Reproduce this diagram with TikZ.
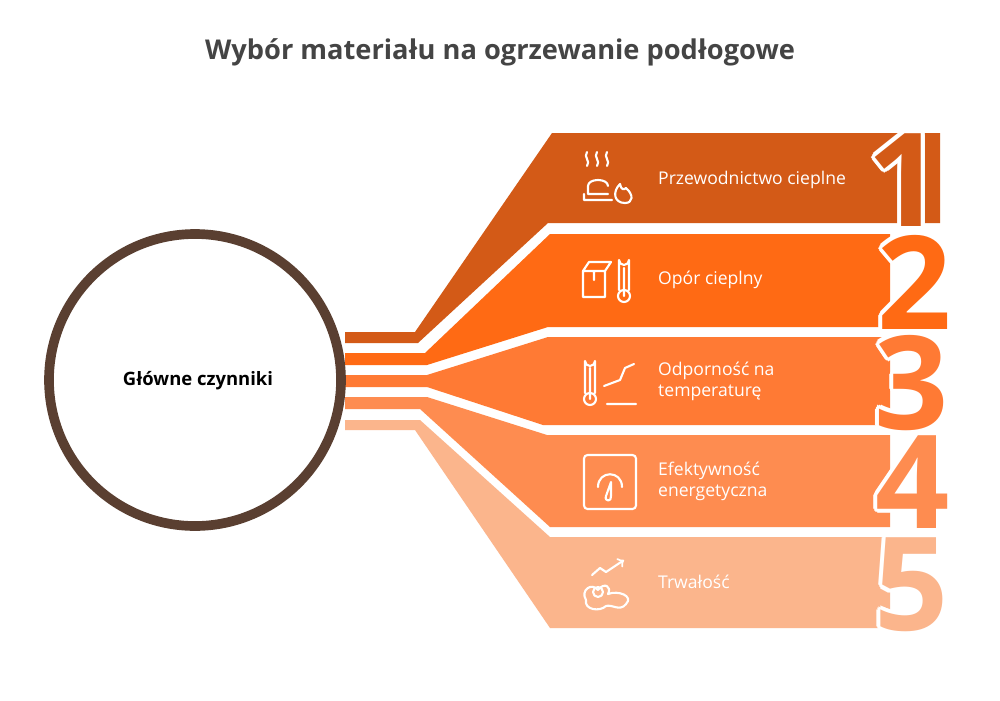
\documentclass[tikz,border=0pt]{standalone}
\usepackage{fontspec}
\setmainfont{Open Sans}
\usepackage{tikz}
\usetikzlibrary{calc}
\definecolor{bandA}{HTML}{D35A17}
\definecolor{bandB}{HTML}{FF6A14}
\definecolor{bandC}{HTML}{FF7A34}
\definecolor{bandD}{HTML}{FE8C50}
\definecolor{bandE}{HTML}{FBB58C}
\definecolor{ring}{HTML}{5A3F31}
\definecolor{titlegray}{HTML}{444444}
\begin{document}
\begin{tikzpicture}[x=0.02cm,y=-0.02cm]
\tikzstyle{label} = [anchor=west, text=white, font=\fontsize{10}{12}\selectfont, align=left]
\tikzstyle{icon} = [white, line width=1.2pt, line cap=round, line join=round]
\tikzstyle{digit} = [font=\fontsize{74}{74}\selectfont\bfseries, inner sep=0pt]
\newcommand{\bignum}[4]{% position, digit, colour, name
  \foreach \a in {0,30,...,330} {\node[digit, white] at ($(#1)+(\a:4)$) {#2};}
  \node[digit, text=#3] (#4) at (#1) {#2};}
\useasboundingbox (0,0) rectangle (1000,700);
\fill[white] (0,0) rectangle (1000,700);
% title
\node[text=titlegray, font=\fontsize{15.5}{17}\selectfont\bfseries] (title) at (500,52) {Wybór materiału na ogrzewanie podłogowe};
% bands
\fill[bandA] (345,332) -- (415,332) -- (552,133) -- (940,133) -- (940,223) -- (548,223) -- (418,343) -- (345,343) -- cycle;
\fill[bandB] (345,353) -- (425,353) -- (550,234) -- (890,234) -- (890,327) -- (548,327) -- (427,365) -- (345,365) -- cycle;
\fill[bandC] (345,375) -- (427,375) -- (548,337) -- (890,337) -- (890,425) -- (543,425) -- (427,387) -- (345,387) -- cycle;
\fill[bandD] (345,397) -- (427,397) -- (547,435) -- (890,435) -- (890,527) -- (550,527) -- (420,409) -- (345,409) -- cycle;
\fill[bandE] (345,420) -- (420,420) -- (550,537) -- (890,537) -- (890,628) -- (550,628) -- (415,430) -- (345,430) -- cycle;
% circle
\draw[ring, line width=5.5pt] (195,380) circle (146);
\node[font=\fontsize{10.5}{12}\selectfont\bfseries] (center) at (198,381) {Główne czynniki};
% numbers
\bignum{905,180}{1}{bandA}{n1}
\bignum{915,282}{2}{bandB}{n2}
\bignum{912,383}{3}{bandC}{n3}
\bignum{913,482}{4}{bandD}{n4}
\bignum{912,585}{5}{bandE}{n5}
% labels
\node[label] (l1) at (652,180) {Przewodnictwo cieplne};
\node[label] (l2) at (652,280) {Opór cieplny};
\node[label] (l3) at (652,381) {Odporność na\\temperaturę};
\node[label] (l4) at (652,481) {Efektywność\\energetyczna};
\node[label] (l5) at (652,582) {Trwałość};
% icon 1
\foreach \x in {587,597,607} {\draw[icon] (\x,152) .. controls (\x-4,157) and (\x+4,161) .. (\x,166);}
\draw[icon] (608,186) .. controls (608,178) and (588,178) .. (588,186) -- (588,194) -- (608,194) (584,194) -- (584,200) -- (612,200);
\draw[icon] (625,203) .. controls (614,203) and (612,192) .. (620,184) .. controls (621,190) and (624,190) .. (626,188) .. controls (634,195) and (633,203) .. (625,203);
% icon 2
\draw[icon] (583,271) rectangle (605,297) (583,271) -- (589,262) -- (611,262) -- (605,271) (594,271) -- (594,280);
\draw[icon] (619,290) -- (619,260) arc (180:0:5) -- (629,290) (624,296) circle (6) (624,296) -- (624,268);
% icon 3
\draw[icon] (585,393) -- (585,361) arc (180:0:5) -- (595,393) (590,399) circle (6) (590,399) -- (590,368);
\draw[icon] (604,386) -- (620,380) -- (625,368) -- (634,364) (607,404) -- (636,404);
% icon 4
\draw[icon, rounded corners=2pt] (584,455) rectangle (636,509);
\draw[icon] (598,487) .. controls (598,470) and (622,470) .. (622,487);
\draw[icon] (611,482) -- (606,496) .. controls (604,502) and (612,502) .. (611,496) -- cycle;
% icon 5
\draw[icon, ->] (592,575) -- (600,568) -- (606,572) -- (624,560);
\draw[icon] (586,600) .. controls (580,590) and (592,582) .. (598,590) .. controls (604,582) and (612,586) .. (608,594) .. controls (618,590) and (634,596) .. (626,604) .. controls (620,612) and (612,604) .. (606,606) .. controls (600,612) and (584,610) .. (586,600);
\draw[icon] (598,592) circle (5);
\end{tikzpicture}
\end{document}
